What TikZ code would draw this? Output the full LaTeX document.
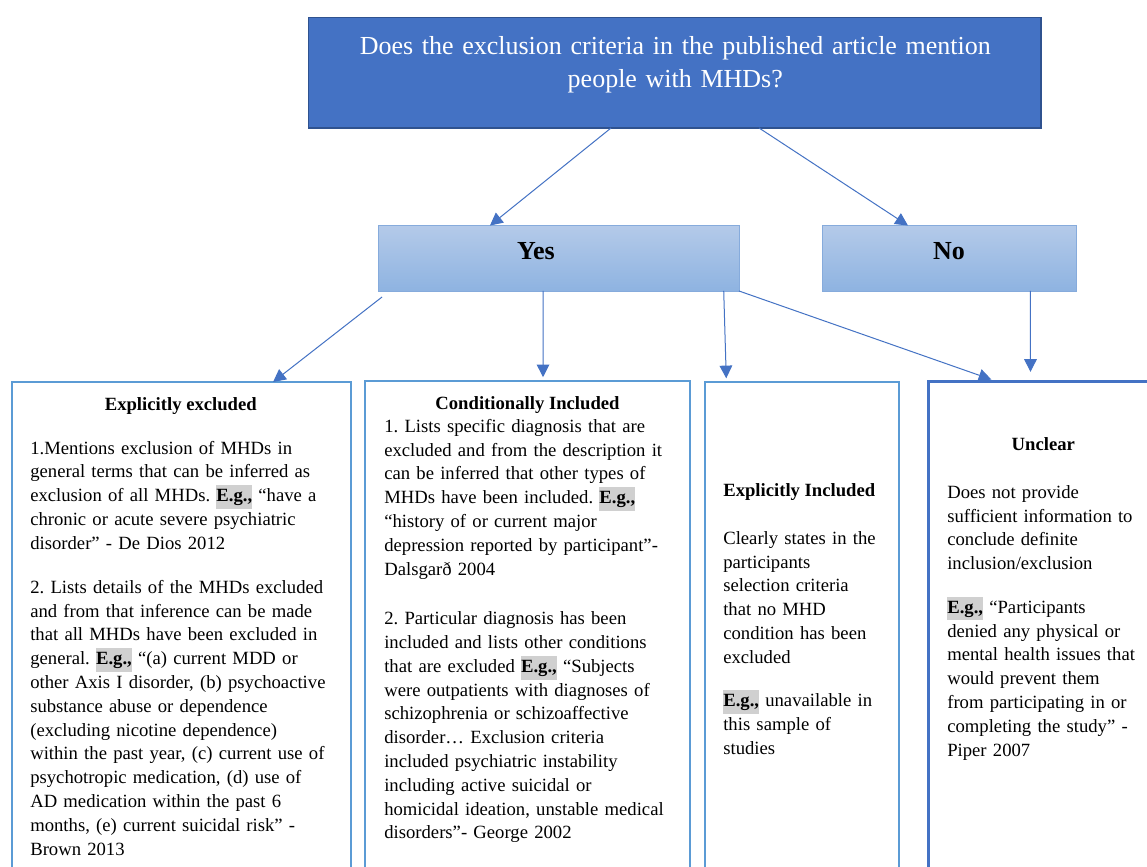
\documentclass[tikz,border=0pt]{standalone}
\usepackage{fontspec}
\setmainfont{Liberation Serif}
\usetikzlibrary{arrows.meta}
\definecolor{qfill}{HTML}{4472C4}
\definecolor{qedge}{HTML}{2F528F}
\definecolor{yntop}{HTML}{B4CAE9}
\definecolor{ynbot}{HTML}{8EB3E1}
\definecolor{ynedge}{HTML}{86ABDC}
\definecolor{coledge}{HTML}{5B9BD5}
\definecolor{uncledge}{HTML}{4472C4}
\definecolor{linkblue}{HTML}{4472C4}
\definecolor{hlgray}{HTML}{D0D0D0}
\newcommand{\eg}{{\setlength{\fboxsep}{0pt}\colorbox{hlgray}{\strut\textbf{E.g.,}}}}
\frenchspacing

\begin{document}
\begin{tikzpicture}[x=0.75pt, y=-0.75pt,
    every node/.style={inner sep=0pt, outer sep=0pt},
    qbox/.style={draw=qedge, line width=1.2pt, fill=qfill, minimum width=549.1pt, minimum height=83pt},
    qtext/.style={font=\fontsize{19.5}{24.2}\selectfont, text=white, align=center, text width=540pt, anchor=base},
    ynbox/.style={draw=ynedge, line width=0.6pt, top color=yntop, bottom color=ynbot, minimum height=49.1pt},
    yntext/.style={font=\fontsize{19.5}{24}\selectfont\bfseries, anchor=base},
    colbox/.style={draw=coledge, line width=1.5pt, minimum height=389pt},
    coltitle/.style={font=\fontsize{14}{17.85}\selectfont\bfseries, anchor=base},
    coltext/.style={font=\fontsize{14}{17.85}\selectfont, align=left, text width=300pt, anchor=base west},
    link/.style={draw=linkblue, line width=0.75pt, -{Triangle[length=9.5pt,width=9.5pt]}}
  ]
  \path[use as bounding box, fill=white] (0,0) rectangle (1147,867);

  \node[qbox] (q) at (674.65,72.65) {};
  \node[ynbox, minimum width=270.5pt] (yes) at (558.65,258.25) {};
  \node[ynbox, minimum width=190.3pt] (no) at (949.15,258.25) {};
  \node[colbox, minimum width=254.25pt] (excl) at (181.2,641.35) {};
  \node[colbox, minimum width=243.5pt] (cond) at (527.7,640.5) {};
  \node[colbox, minimum width=145.7pt] (expl) at (801.85,641.35) {};
  \node[colbox, draw=uncledge, line width=2pt, minimum width=173.5pt] (uncl) at (1044.35,640.5) {};

  \node[qtext] (qtxt) at (675.3,55) {Does the exclusion criteria in the published article mention\\ people with MHDs?};
  \node[yntext] (yestxt) at (536,259.3) {Yes};
  \node[yntext] (notxt) at (949,259.3) {No};

  \node[coltitle] (excltitle) at (180.8,410.7) {Explicitly excluded};
  \node[coltext] (excltxt) at (30.3,454) {1.Mentions exclusion of MHDs in\\
    general terms that can be inferred as\\
    exclusion of all MHDs. \eg{} “have a\\
    chronic or acute severe psychiatric\\
    disorder” - De Dios 2012\\[15.2pt]
    2. Lists details of the MHDs excluded\\
    and from that inference can be made\\
    that all MHDs have been excluded in\\
    general. \eg{} “(a) current MDD or\\
    other Axis I disorder, (b) psychoactive\\
    substance abuse or dependence\\
    (excluding nicotine dependence)\\
    within the past year, (c) current use of\\
    psychotropic medication, (d) use of\\
    AD medication within the past 6\\
    months, (e) current suicidal risk” -\\
    Brown 2013};

  \node[coltitle] (condtitle) at (527.5,409.3) {Conditionally Included};
  \node[coltext] (condtxt) at (384.3,432.3) {1. Lists specific diagnosis that are\\
    excluded and from the description it\\
    can be inferred that other types of\\
    MHDs have been included. \eg\\
    “history of or current major\\
    depression reported by participant”-\\
    Dalsgarð 2004\\[19.4pt]
    2. Particular diagnosis has been\\
    included and lists other conditions\\
    that are excluded \eg{} “Subjects\\
    were outpatients with diagnoses of\\
    schizophrenia or schizoaffective\\
    disorder… Exclusion criteria\\
    included psychiatric instability\\
    including active suicidal or\\
    homicidal ideation, unstable medical\\
    disorders”- George 2002};

  \node[coltitle, anchor=base west] (expltitle) at (723.3,496) {Explicitly Included};
  \node[coltext] (expltxt) at (723.3,544.3) {Clearly states in the\\
    participants\\
    selection criteria\\
    that no MHD\\
    condition has been\\
    excluded\\[14.8pt]
    \eg{} unavailable in\\
    this sample of\\
    studies};

  \node[coltitle] (ncltitle) at (1043.3,450) {Unclear};
  \node[coltext] (uncltxt) at (947.3,498.3) {Does not provide\\
    sufficient information to\\
    conclude definite\\
    inclusion/exclusion\\[14.8pt]
    \eg{} “Participants\\
    denied any physical or\\
    mental health issues that\\
    would prevent them\\
    from participating in or\\
    completing the study” -\\
    Piper 2007};

  \draw[link] ([xshift=-47.7pt]q.south) -- ([xshift=-51.5pt]yes.north);
  \draw[link] ([xshift=63.3pt]q.south) -- ([xshift=-30.9pt]no.north);
  \draw[link] ([xshift=2.8pt,yshift=-4.5pt]yes.south west) -- ([xshift=68.9pt]excl.north);
  \draw[link, shorten >=3pt] ([xshift=-11.7pt]yes.south) -- ([xshift=11.5pt]cond.north);
  \draw[link, shorten >=2.8pt] ([xshift=123.8pt]yes.south) -- ([xshift=-56.6pt]expl.north);
  \draw[link, shorten >=3.7pt] (yes.south east) -- ([xshift=50.5pt]uncl.north west);
  \draw[link, shorten >=7pt] ([xshift=61pt]no.south) -- ([xshift=-10.4pt]uncl.north);
\end{tikzpicture}
\end{document}
